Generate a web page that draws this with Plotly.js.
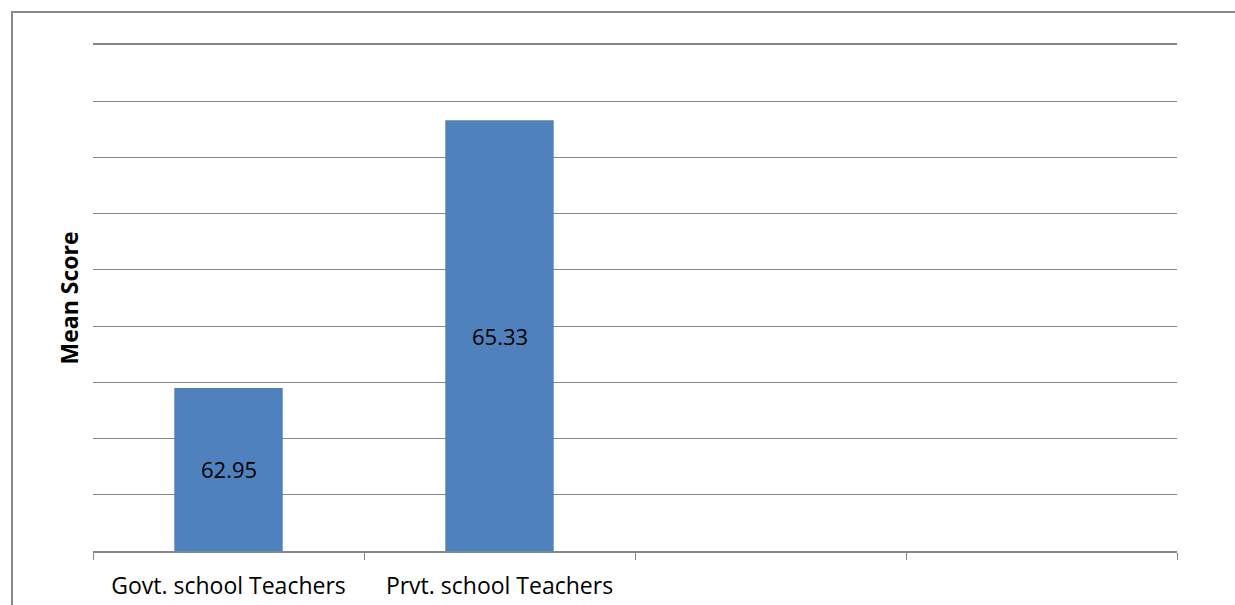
<!DOCTYPE html>
<html>
<head>
<meta charset="utf-8">
<script src="https://cdn.plot.ly/plotly-3.0.1.min.js"></script>
<style>html,body{margin:0;padding:0;background:#fff;}#chart{width:1235px;height:605px;}</style>
</head>
<body>
<div id="chart"></div>
<script>
const categories = ["Govt. school Teachers", "Prvt. school Teachers", " ", "  "];
const barCategories = ["Govt. school Teachers", "Prvt. school Teachers"];
const meanScores = [62.95, 65.33];
const labels = ["62.95", "65.33"];
const axisMin = 61.5;
const axisMax = 66;

const trace = {
  type: "bar",
  x: barCategories,
  y: meanScores,
  marker: {color: "#4F81BD"},
  width: 0.4,
  hoverinfo: "none"
};

const annotations = barCategories.map((c, i) => ({
  x: c, y: (axisMin + meanScores[i]) / 2,
  xref: "x", yref: "y",
  text: labels[i], showarrow: false,
  font: {family: "Open Sans, sans-serif", size: 22, color: "#000"}
}));

const layout = {
  width: 1235, height: 605,
  margin: {l: 93, r: 58, t: 45, b: 54},
  paper_bgcolor: "#fff", plot_bgcolor: "#fff",
  showlegend: false,
  font: {family: "Open Sans, sans-serif", color: "#000"},
  xaxis: {
    type: "category",
    categoryorder: "array",
    categoryarray: categories,
    range: [-0.5, 3.5],
    tickson: "boundaries",
    ticks: "outside", ticklen: 7, tickcolor: "#868686", tickwidth: 1,
    showline: true, linecolor: "#868686", linewidth: 2, mirror: true,
    showgrid: false,
    ticklabelstandoff: 13,
    tickfont: {size: 23, color: "#000"}
  },
  yaxis: {
    range: [axisMin, axisMax],
    dtick: 0.5, tick0: axisMin,
    showticklabels: false,
    ticks: "",
    showgrid: true, gridcolor: "#868686", gridwidth: 1,
    zeroline: false, showline: false,
    title: {text: "<b>Mean Score</b>", font: {size: 23, color: "#000"}, standoff: 6}
  },
  annotations: annotations,
  shapes: [{
    type: "rect", xref: "paper", yref: "paper",
    x0: (12 - 93) / 1084, x1: 1.2,
    y0: -0.3, y1: (551 - 12) / 506,
    line: {color: "#888888", width: 2}
  }]
};

Plotly.newPlot("chart", [trace], layout, {staticPlot: true});
</script>
</body>
</html>
